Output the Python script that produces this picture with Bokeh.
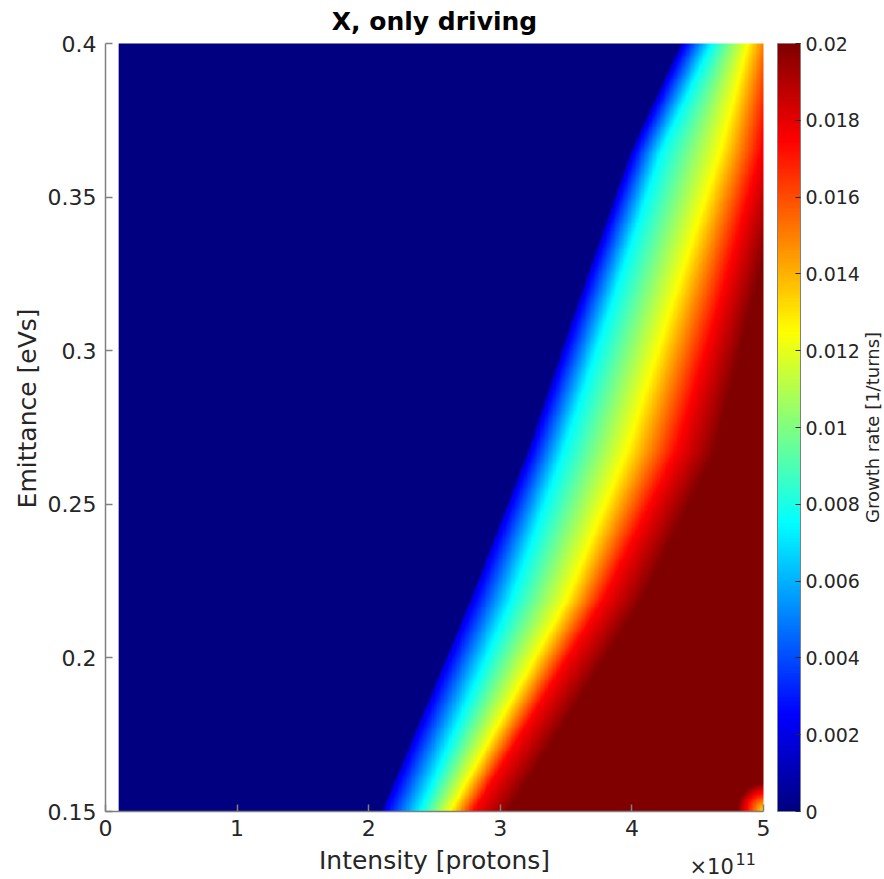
import numpy as np
from bokeh.plotting import figure
from bokeh.layouts import column, row
from bokeh.models import (LinearColorMapper, ColorBar, FixedTicker, Range1d,
                          Label, CustomJSTickFormatter)
from bokeh.embed import file_html
from bokeh.resources import INLINE

# ---------------- data ----------------
title_text = "X, only driving"
x_label = "Intensity [protons]"
y_label = "Emittance [eVs]"
cbar_label = "Growth rate [1/turns]"
x_exponent = "11"

# intensity in units of 1e11 protons
intensity_min, intensity_max = 0.1, 5.0
emittance_min, emittance_max = 0.15, 0.40

x_ticks = [0, 1, 2, 3, 4, 5]
y_ticks = [0.15, 0.2, 0.25, 0.3, 0.35, 0.4]
cbar_ticks = [0, 0.002, 0.004, 0.006, 0.008, 0.01, 0.012, 0.014, 0.016, 0.018, 0.02]
growth_low, growth_high = 0.0, 0.02

# contour positions (intensity, 1e11) read at several emittance rows
emittance_rows = [0.15, 0.2187, 0.2675, 0.316, 0.365, 0.40]
growth_levels = [0.0, 0.0022, 0.0075, 0.0125, 0.0175, 0.02]
edge_zero = [2.09, 2.76, 3.20, 3.58, 3.98, 4.36]
edge_onset = [2.12, 2.79, 3.23, 3.61, 4.01, 4.39]
edge_cyan = [2.39, 3.08, 3.48, 3.85, 4.22, 4.60]
edge_yellow = [2.62, 3.50, 3.96, 4.31, 4.67, 4.88]
edge_red = [2.80, 3.78, 4.34, 4.67, 4.98, 5.11]
edge_max = [3.07, 4.08, 4.64, 4.92, 5.21, 5.32]

# small patch of lower growth in the bottom-right corner
corner_growth = 0.013
corner_reach_intensity = 0.2
corner_reach_emittance = 0.009

# ---------------- build the field from the read contours ----------------
nx, ny = 490, 400
xs = np.linspace(intensity_min, intensity_max, nx)
ys = np.linspace(emittance_min, emittance_max, ny)
edges = [edge_zero, edge_onset, edge_cyan, edge_yellow, edge_red, edge_max]
Z = np.empty((ny, nx))
for j, e in enumerate(ys):
    xp = [np.interp(e, emittance_rows, lvl) for lvl in edges]
    Z[j] = np.interp(xs, xp, growth_levels)
X, Y = np.meshgrid(xs, ys)
r = np.hypot((intensity_max - X) / corner_reach_intensity,
             (Y - emittance_min) / corner_reach_emittance)
Z = np.minimum(Z, corner_growth + (growth_high - corner_growth) * np.clip(r, 0, 1))
Z = Z.astype(np.float32)

# jet colormap
t = np.linspace(0, 1, 256)
rr = np.clip(1.5 - np.abs(4 * t - 3), 0, 1)
gg = np.clip(1.5 - np.abs(4 * t - 2), 0, 1)
bb = np.clip(1.5 - np.abs(4 * t - 1), 0, 1)
jet = ["#%02x%02x%02x" % (int(round(a * 255)), int(round(b * 255)), int(round(c * 255)))
       for a, b, c in zip(rr, gg, bb)]

axis_col = "#808080"
text_col = "#262626"
font = "DejaVu Sans"

# ---------------- layout geometry (pixels) ----------------
PAGE_W, PAGE_H = 884, 879
LEFT_W = 44            # strip holding the y label
MAIN_H = 845           # main figure height
FRAME_L = 105          # page x of the intensity=0 axis
FRAME_B = 811          # page y of the emittance=0.15 axis
PX_PER_X = 658 / 5.0   # pixels per 1e11 protons
PX_PER_Y = 768 / 0.25  # pixels per eVs

main_w = PAGE_W - LEFT_W
x_end = (PAGE_W - FRAME_L) / PX_PER_X
y_end = emittance_min + FRAME_B / PX_PER_Y

p = figure(width=main_w, height=MAIN_H, output_backend="svg", toolbar_location=None,
           x_range=Range1d(0, x_end), y_range=Range1d(emittance_min, y_end),
           min_border_left=FRAME_L - LEFT_W, min_border_right=0, min_border_top=0,
           min_border_bottom=MAIN_H - FRAME_B)
p.background_fill_color = "white"
p.border_fill_color = "white"
p.outline_line_color = None
p.xgrid.visible = False
p.ygrid.visible = False

mapper = LinearColorMapper(palette=jet, low=growth_low, high=growth_high)
p.image(image=[Z], x=intensity_min, y=emittance_min,
        dw=intensity_max - intensity_min, dh=emittance_max - emittance_min,
        color_mapper=mapper)

for ax in (p.xaxis[0], p.yaxis[0]):
    ax.axis_line_color = axis_col
    ax.axis_line_width = 1.5
    ax.major_tick_line_color = axis_col
    ax.major_tick_line_width = 1.5
    ax.major_tick_in = 7
    ax.major_tick_out = 0
    ax.minor_tick_line_color = None
    ax.major_label_text_font = font
    ax.major_label_text_font_size = "22px"
    ax.major_label_text_color = text_col
p.xaxis.bounds = (0, 5)
p.yaxis.bounds = (emittance_min, emittance_max)
p.xaxis.ticker = FixedTicker(ticks=x_ticks)
p.yaxis.ticker = FixedTicker(ticks=y_ticks)
p.yaxis.formatter = CustomJSTickFormatter(code="return tick.toFixed(2).replace(/\\.?0+$/, '');")
p.xaxis.major_label_standoff = 8
p.yaxis.major_label_standoff = 9

cb = ColorBar(color_mapper=mapper, location=(672, 0), width=23, height=768,
              padding=0, margin=0, ticker=FixedTicker(ticks=cbar_ticks),
              formatter=CustomJSTickFormatter(code="return tick.toFixed(3).replace(/\\.?0+$/, '');"),
              major_label_text_font=font, major_label_text_font_size="19px",
              major_label_text_color=text_col, major_tick_in=5, major_tick_out=0,
              major_tick_line_color=text_col, minor_tick_line_color=None,
              bar_line_color=axis_col, border_line_color=None,
              background_fill_alpha=0, label_standoff=5)
p.add_layout(cb, "center")

p.add_layout(Label(x=2.5, y=emittance_max, text=title_text, text_font=font,
                   text_font_size="25px", text_font_style="bold", text_color="black",
                   text_align="center", text_baseline="middle", y_offset=22))
p.add_layout(Label(x=5, y=0.275, text=cbar_label, text_font=font, text_font_size="18px",
                   text_color=text_col, text_align="center", text_baseline="middle",
                   angle=np.pi / 2, x_offset=109))


def strip(w, h, y_top):
    f = figure(width=w, height=h, output_backend="svg", toolbar_location=None,
               x_range=Range1d(0, w), y_range=Range1d(y_top + h, y_top),
               x_axis_type=None, y_axis_type=None, min_border=0)
    f.min_border_left = f.min_border_right = f.min_border_top = f.min_border_bottom = 0
    f.outline_line_color = None
    f.background_fill_color = "white"
    f.border_fill_color = "white"
    f.xgrid.visible = False
    f.ygrid.visible = False
    return f


# left strip: y label (coordinates = page pixels)
left = strip(LEFT_W, MAIN_H, 0)
left.add_layout(Label(x=27, y=425, text=y_label, text_font=font, text_font_size="25px",
                      text_color=text_col, text_align="center", text_baseline="middle",
                      angle=np.pi / 2))

# bottom strip: x label and exponent (coordinates = page pixels)
bottom = strip(PAGE_W, PAGE_H - MAIN_H, MAIN_H)
bottom.add_layout(Label(x=434, y=860, text=x_label, text_font=font, text_font_size="25px",
                        text_color=text_col, text_align="center", text_baseline="middle"))
bottom.add_layout(Label(x=689, y=866, text="\u00d710", text_font=font, text_font_size="21px",
                        text_color=text_col, text_align="left", text_baseline="middle"))
bottom.add_layout(Label(x=735, y=858, text=x_exponent, text_font=font, text_font_size="16px",
                        text_color=text_col, text_align="left", text_baseline="middle"))

layout = column(row(left, p, spacing=0), bottom, spacing=0)
open("out.html", "w").write(file_html(layout, INLINE))
